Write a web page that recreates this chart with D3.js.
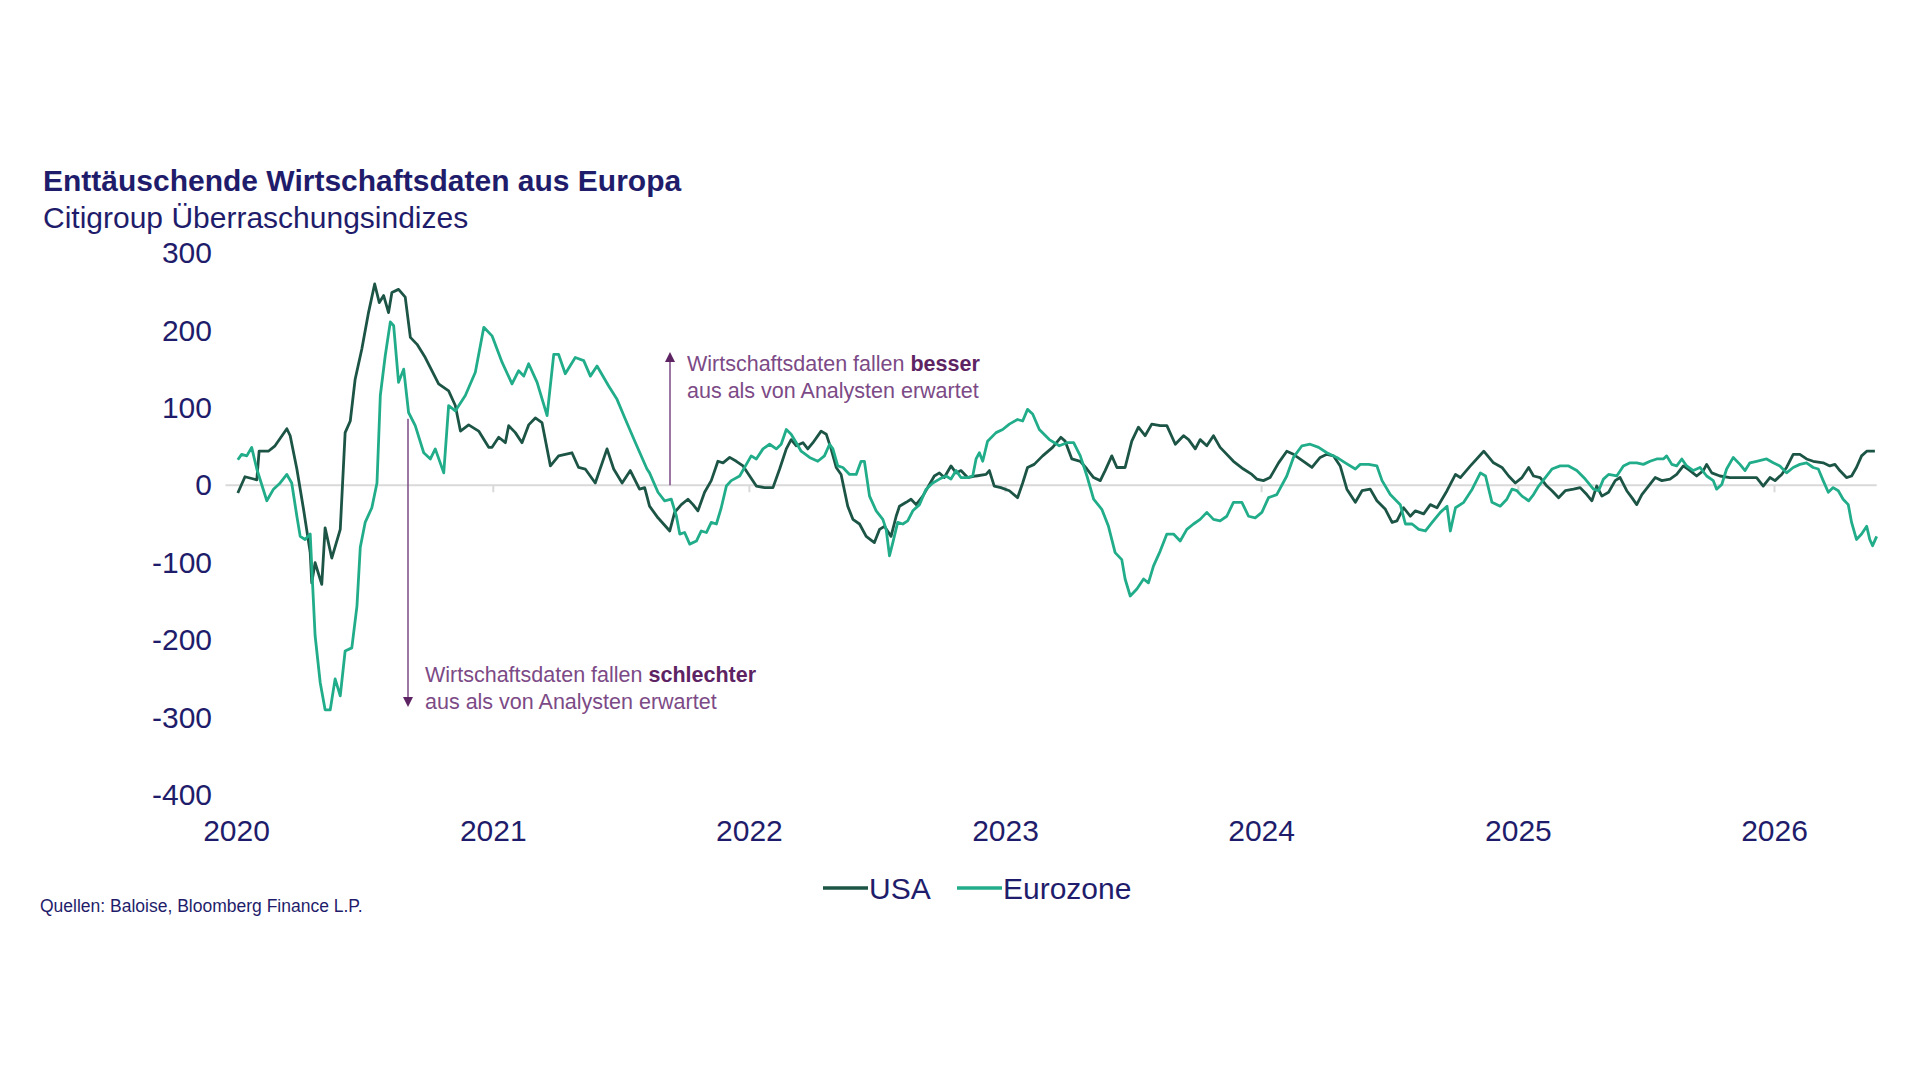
<!DOCTYPE html>
<html>
<head>
<meta charset="utf-8">
<script src="https://cdn.jsdelivr.net/npm/d3@7"></script>
<style>
  body { margin: 0; background: #fff; }
  svg text { font-family: Arial, "Liberation Sans", sans-serif; }
</style>
</head>
<body>
<div id="chart"></div>
<script>
// Citigroup surprise indices (time as decimal year)
var usaTime = [2020.007,2020.035,2020.081,2020.090,2020.126,2020.152,2020.198,2020.211,2020.237,2020.263,2020.289,2020.295,2020.308,2020.334,2020.347,2020.373,2020.406,2020.425,2020.445,2020.464,2020.490,2020.516,2020.540,2020.558,2020.575,2020.594,2020.607,2020.633,2020.659,2020.679,2020.705,2020.737,2020.789,2020.828,2020.854,2020.874,2020.906,2020.945,2020.984,2020.997,2021.023,2021.049,2021.062,2021.088,2021.114,2021.140,2021.166,2021.192,2021.225,2021.257,2021.309,2021.335,2021.361,2021.400,2021.446,2021.472,2021.505,2021.537,
  2021.573,2021.593,2021.612,2021.645,2021.691,2021.710,2021.736,2021.762,2021.782,2021.801,2021.827,2021.853,2021.879,2021.899,2021.925,2021.951,2021.977,2022.003,2022.029,2022.061,2022.094,2022.120,2022.146,2022.165,2022.185,2022.211,2022.230,2022.250,2022.282,2022.302,2022.321,2022.341,2022.360,2022.386,2022.406,2022.432,2022.458,2022.490,2022.510,2022.529,2022.555,2022.575,2022.588,2022.614,2022.633,2022.653,2022.679,2022.705,2022.724,2022.744,2022.763,2022.789,2022.809,2022.828,2022.854,2022.887,2022.926,2022.939,2022.958,2022.984,2023.017,2023.049,2023.069,2023.088,2023.114,2023.147,2023.186,2023.218,
  2023.235,2023.261,2023.294,2023.320,2023.346,2023.372,2023.391,2023.417,2023.437,2023.469,2023.495,2023.521,2023.547,2023.573,2023.606,2023.632,2023.665,2023.697,2023.717,2023.743,2023.762,2023.788,2023.814,2023.840,2023.892,2023.931,2023.964,2023.983,2024.009,2024.035,2024.068,2024.100,2024.126,2024.165,2024.198,2024.230,2024.256,2024.282,2024.308,2024.334,2024.367,2024.393,2024.425,2024.451,2024.484,2024.510,2024.529,2024.555,2024.581,2024.601,2024.633,2024.659,2024.685,2024.724,2024.757,2024.776,2024.815,2024.867,
  2024.905,2024.938,2024.964,2024.990,2025.016,2025.042,2025.061,2025.087,2025.113,2025.133,2025.159,2025.185,2025.217,2025.243,2025.269,2025.289,2025.308,2025.328,2025.354,2025.380,2025.399,2025.425,2025.445,2025.464,2025.484,2025.510,2025.536,2025.562,2025.594,2025.620,2025.646,2025.672,2025.698,2025.724,2025.737,2025.757,2025.789,2025.828,2025.880,2025.932,2025.958,2025.984,2026.004,2026.030,2026.049,2026.075,2026.101,2026.127,2026.153,2026.192,2026.218,2026.238,2026.257,2026.283,2026.303,2026.322,2026.342,2026.362,2026.394];
var usaValues = [-10,11,7,44,44,51,73,64,21,-31,-87,-126,-100,-128,-55,-94,-57,68,83,137,176,223,260,236,245,223,249,253,243,191,182,165,131,122,103,70,78,70,49,49,62,55,77,68,55,78,87,81,25,38,42,23,21,3,47,21,3,19,
  -5,-3,-27,-42,-59,-35,-25,-18,-25,-33,-9,6,31,29,36,31,25,12,-1,-3,-3,21,47,59,51,55,47,55,70,66,47,23,14,-27,-44,-50,-66,-74,-57,-53,-66,-40,-27,-22,-18,-25,-14,1,12,16,10,25,16,19,10,12,14,19,-1,-3,-7,-16,3,23,27,38,49,62,
  57,34,31,21,10,6,19,38,23,23,57,75,64,79,77,77,53,64,59,47,59,51,64,49,31,21,14,8,6,10,29,44,40,31,23,36,40,38,25,-5,-22,-7,-5,-20,-31,-48,-46,-29,-40,-33,-37,-25,-29,-7,14,10,25,44,
  29,23,12,3,10,23,12,10,-1,-7,-16,-7,-5,-3,-12,-20,-1,-14,-9,6,10,-7,-16,-25,-12,-1,10,6,8,14,25,19,12,19,27,16,12,10,10,10,-1,10,6,14,23,40,40,34,31,29,25,27,19,10,12,23,38,44,44];

var euroTime = [2020.007,2020.022,2020.042,2020.061,2020.081,2020.120,2020.146,2020.172,2020.198,2020.217,2020.237,2020.250,2020.269,2020.289,2020.298,2020.308,2020.328,2020.347,2020.367,2020.386,2020.406,2020.425,2020.451,2020.471,2020.484,2020.503,2020.529,2020.549,2020.562,2020.581,2020.601,2020.614,2020.633,2020.653,2020.672,2020.698,2020.731,2020.757,2020.776,2020.809,2020.828,2020.854,2020.893,2020.932,2020.965,2020.997,2021.036,2021.075,2021.101,2021.121,2021.140,2021.173,2021.212,2021.238,2021.257,2021.283,2021.322,2021.355,2021.381,2021.407,2021.453,2021.485,2021.518,2021.557,2021.602,
  2021.612,2021.645,2021.671,2021.697,2021.717,2021.730,2021.749,2021.769,2021.795,2021.814,2021.834,2021.853,2021.873,2021.892,2021.912,2021.931,2021.964,2021.990,2022.009,2022.029,2022.055,2022.081,2022.107,2022.126,2022.146,2022.165,2022.185,2022.204,2022.237,2022.269,2022.295,2022.315,2022.328,2022.347,2022.367,2022.393,2022.419,2022.438,2022.451,2022.471,2022.497,2022.523,2022.536,2022.549,2022.562,2022.581,2022.601,2022.620,2022.640,2022.666,2022.692,2022.718,2022.744,2022.770,2022.789,2022.809,2022.828,2022.854,2022.874,2022.887,2022.900,2022.913,2022.932,2022.965,2022.991,2023.017,2023.049,2023.069,2023.088,2023.108,2023.134,2023.173,2023.212,
  2023.242,2023.268,2023.294,2023.320,2023.346,2023.378,2023.404,2023.430,2023.456,2023.469,2023.489,2023.515,2023.541,2023.560,2023.580,2023.606,2023.632,2023.658,2023.684,2023.710,2023.736,2023.762,2023.788,2023.814,2023.840,2023.866,2023.892,2023.925,2023.951,2023.977,2024.003,2024.029,2024.061,2024.100,2024.126,2024.159,2024.191,2024.224,2024.256,2024.295,2024.328,2024.367,2024.386,2024.419,2024.451,2024.471,2024.503,2024.542,2024.562,2024.588,2024.614,2024.640,2024.666,2024.698,2024.724,2024.737,2024.757,2024.789,2024.822,2024.854,2024.874,
  2024.899,2024.931,2024.957,2024.977,2024.996,2025.016,2025.042,2025.061,2025.081,2025.107,2025.133,2025.165,2025.198,2025.230,2025.263,2025.295,2025.315,2025.334,2025.354,2025.386,2025.412,2025.438,2025.464,2025.490,2025.516,2025.542,2025.568,2025.581,2025.601,2025.620,2025.640,2025.659,2025.685,2025.711,2025.737,2025.763,2025.776,2025.796,2025.815,2025.841,2025.867,2025.887,2025.906,2025.932,2025.971,2025.997,2026.023,2026.049,2026.075,2026.101,2026.127,2026.153,2026.173,2026.192,2026.212,2026.231,2026.251,2026.270,2026.290,2026.303,2026.322,2026.342,2026.362,2026.374,2026.385,2026.401];
var euroValues = [33,40,38,49,21,-20,-5,3,14,3,-40,-66,-70,-63,-126,-194,-255,-290,-290,-250,-272,-214,-210,-156,-80,-48,-29,3,116,167,211,206,133,150,94,77,42,34,47,16,103,96,116,146,204,193,159,131,148,141,157,133,90,169,169,144,165,161,141,154,128,111,85,55,21,
  16,-9,-20,-18,-40,-63,-61,-76,-72,-59,-61,-48,-50,-29,-1,6,12,27,38,34,47,53,47,53,72,66,55,44,36,31,38,53,47,25,23,14,14,31,31,-14,-33,-44,-57,-91,-74,-48,-50,-46,-33,-25,-5,3,8,12,8,19,10,10,12,34,42,31,57,68,72,79,85,83,98,92,72,59,51,
  55,55,38,12,-18,-31,-53,-87,-96,-121,-143,-134,-121,-126,-104,-85,-63,-63,-72,-57,-50,-44,-35,-44,-46,-40,-22,-22,-40,-42,-35,-16,-12,12,36,51,53,49,42,36,29,21,27,27,25,6,-12,-25,-50,-50,-57,-59,-48,-35,-27,-59,-29,-22,-5,16,12,
  -22,-27,-18,-5,-7,-14,-20,-12,-1,10,21,25,25,19,8,-5,-7,8,14,12,25,29,29,27,31,34,34,38,27,25,34,25,19,23,12,6,-5,1,21,36,27,19,29,31,34,29,25,16,23,27,29,23,21,6,-9,-3,-7,-18,-25,-48,-70,-63,-53,-70,-78,-66];

var yearTicks = [2020, 2021, 2022, 2023, 2024, 2025, 2026];
var valueTicks = [300, 200, 100, 0, -100, -200, -300, -400];
var seriesNames = ["USA", "Eurozone"];

var navy = "#1f1d6b",
    usaColor = "#1c5545",
    euroColor = "#22ad8a",
    noteColor = "#7c4a86",
    noteBold = "#5d2363";

// decimal year -> Date
function toDate(t) {
  var yr = Math.floor(t),
      a = new Date(yr, 0, 1), b = new Date(yr + 1, 0, 1);
  return new Date(+a + (t - yr) * (b - a));
}

var usa = usaTime.map(function(t, i) { return {date: toDate(t), value: usaValues[i]}; });
var euro = euroTime.map(function(t, i) { return {date: toDate(t), value: euroValues[i]}; });

var svg = d3.select("#chart")
  .append("svg")
    .attr("width", 1920)
    .attr("height", 1080);

var x = d3.scaleTime()
  .domain([new Date(2020, 0, 1), new Date(2026, 0, 1)])
  .range([236, 1774]);

var y = d3.scaleLinear()
  .domain([-400, 300])
  .range([795, 253]);

// title
svg.append("text")
  .attr("x", 43).attr("y", 191)
  .style("font-size", "30px").style("font-weight", "bold")
  .attr("fill", navy)
  .text("Enttäuschende Wirtschaftsdaten aus Europa");
svg.append("text")
  .attr("x", 43).attr("y", 228)
  .style("font-size", "30px")
  .attr("fill", navy)
  .text("Citigroup Überraschungsindizes");

// y axis labels (plain hyphen for negatives, as in the original)
var yAxis = svg.append("g")
  .attr("transform", "translate(212,0)")
  .call(d3.axisLeft(y).tickValues(valueTicks)
    .tickFormat(function(d) { return String(d); })
    .tickSize(0).tickPadding(0));
yAxis.select(".domain").remove();
yAxis.selectAll("text")
  .style("font-size", "30px")
  .attr("fill", navy);

// x axis labels (bottom)
var xAxis = svg.append("g")
  .attr("transform", "translate(0,820)")
  .call(d3.axisBottom(x)
    .tickValues(yearTicks.map(function(d) { return new Date(d, 0, 1); }))
    .tickFormat(d3.timeFormat("%Y"))
    .tickSize(0).tickPadding(0));
xAxis.select(".domain").remove();
xAxis.selectAll("text")
  .style("font-size", "30px")
  .attr("fill", navy);

// zero line with year ticks
var lastDate = d3.max(euro.concat(usa), function(d) { return d.date; });
svg.append("line")
  .attr("x1", x(new Date(2019, 11, 17))).attr("x2", x(lastDate))
  .attr("y1", y(0)).attr("y2", y(0))
  .attr("stroke", "#d9d9d9").attr("stroke-width", 2);
var zeroTicks = svg.append("g")
  .attr("transform", "translate(0," + y(0) + ")")
  .call(d3.axisBottom(x)
    .tickValues(yearTicks.slice(1).map(function(d) { return new Date(d, 0, 1); }))
    .tickFormat("").tickSize(7));
zeroTicks.select(".domain").remove();
zeroTicks.selectAll("line").attr("stroke", "#d9d9d9").attr("stroke-width", 2);

// annotation arrows
svg.append("line")
  .attr("x1", 670).attr("x2", 670)
  .attr("y1", y(0)).attr("y2", 360)
  .attr("stroke", noteColor).attr("stroke-width", 1.5);
svg.append("path")
  .attr("d", "M670,352 L665,362 L675,362 Z")
  .attr("fill", noteBold);

svg.append("line")
  .attr("x1", 408).attr("x2", 408)
  .attr("y1", y(86)).attr("y2", 698)
  .attr("stroke", noteColor).attr("stroke-width", 1.5);
svg.append("path")
  .attr("d", "M408,707 L403,697 L413,697 Z")
  .attr("fill", noteBold);

function note(xPos, yPos, boldWord) {
  var t1 = svg.append("text")
    .attr("x", xPos).attr("y", yPos)
    .style("font-size", "21.5px")
    .attr("fill", noteColor);
  t1.append("tspan").text("Wirtschaftsdaten fallen ");
  t1.append("tspan").style("font-weight", "bold").attr("fill", noteBold).text(boldWord);
  svg.append("text")
    .attr("x", xPos).attr("y", yPos + 27)
    .style("font-size", "21.5px")
    .attr("fill", noteColor)
    .text("aus als von Analysten erwartet");
}
note(687, 371, "besser");
note(425, 682, "schlechter");

// lines
var line = d3.line()
  .x(function(d) { return x(d.date); })
  .y(function(d) { return y(d.value); });

svg.append("path")
  .datum(usa)
  .attr("d", line)
  .attr("fill", "none")
  .attr("stroke", usaColor)
  .attr("stroke-width", 2.8)
  .attr("stroke-linejoin", "round");

svg.append("path")
  .datum(euro)
  .attr("d", line)
  .attr("fill", "none")
  .attr("stroke", euroColor)
  .attr("stroke-width", 2.8)
  .attr("stroke-linejoin", "round");

// legend
var legend = svg.append("g");
var legendItems = [
  {name: seriesNames[0], color: usaColor, x: 823},
  {name: seriesNames[1], color: euroColor, x: 957}
];
legendItems.forEach(function(d) {
  legend.append("line")
    .attr("x1", d.x).attr("x2", d.x + 45)
    .attr("y1", 888).attr("y2", 888)
    .attr("stroke", d.color).attr("stroke-width", 3.5);
  legend.append("text")
    .attr("x", d.x + 46).attr("y", 899)
    .style("font-size", "30px")
    .attr("fill", navy)
    .text(d.name);
});

// source
svg.append("text")
  .attr("x", 40).attr("y", 912)
  .style("font-size", "17.5px")
  .attr("fill", navy)
  .text("Quellen: Baloise, Bloomberg Finance L.P.");
</script>
</body>
</html>
